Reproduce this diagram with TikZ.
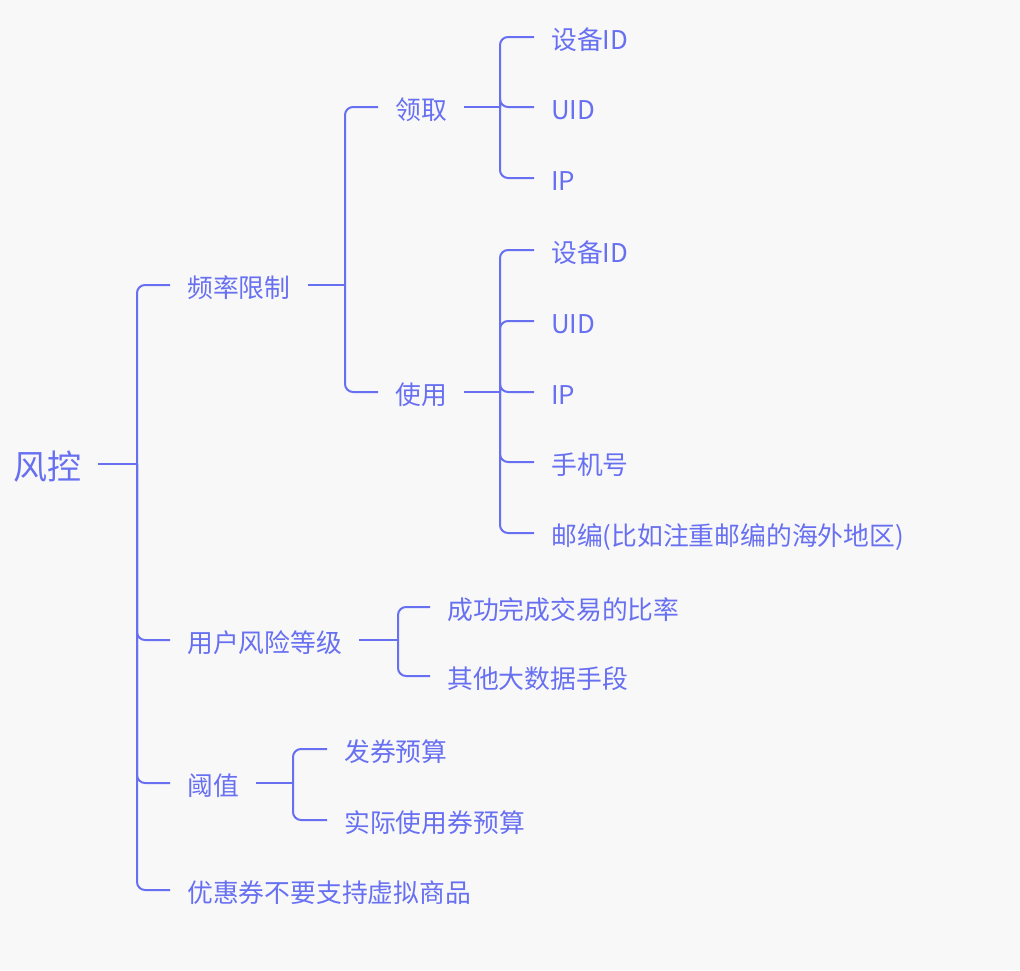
\documentclass[tikz,border=0pt]{standalone}
\usepackage{fontspec}
\setmainfont{Noto Sans CJK SC}
\definecolor{ink}{RGB}{104,112,242}
\definecolor{bg}{RGB}{248,248,248}
\tikzset{
  lbl/.style={anchor=west, inner xsep=17pt, inner ysep=0pt, text height=25pt, text depth=0.4pt, text=ink, font=\fontsize{25.8}{26}\selectfont},
  rootlbl/.style={lbl, text height=31.2pt, font=\fontsize{34}{34}\selectfont},
  link/.style={draw=ink, line width=2pt, rounded corners=8pt}
}
\begin{document}
\begin{tikzpicture}[x=1pt,y=-1pt]
\fill[bg] (0,0) rectangle (1020,970);
\useasboundingbox (0,0) rectangle (1020,970);
% nodes
\node[rootlbl] (r) at (-4,464) {风控};
\node[lbl] (f) at (170,285) {频率限制};
\node[lbl] (u) at (170,640) {用户风险等级};
\node[lbl] (t) at (170,783) {阈值};
\node[lbl] (y) at (170,890) {优惠券不要支持虚拟商品};
\node[lbl] (lq) at (378,107) {领取};
\node[lbl] (sy) at (378,392) {使用};
\node[lbl] (a1) at (534,37) {设备ID};
\node[lbl] (a2) at (534,107) {UID};
\node[lbl] (a3) at (534,178) {IP};
\node[lbl] (b1) at (534,250) {设备ID};
\node[lbl] (b2) at (534,321) {UID};
\node[lbl] (b3) at (534,392) {IP};
\node[lbl] (b4) at (534,462) {手机号};
\node[lbl] (b5) at (534,533) {邮编(比如注重邮编的海外地区)};
\node[lbl] (c1) at (430,607) {成功完成交易的比率};
\node[lbl] (c2) at (430,676) {其他大数据手段};
\node[lbl] (d1) at (327,749) {发券预算};
\node[lbl] (d2) at (327,820) {实际使用券预算};
% junctions
\coordinate (j0) at (137,464);
\coordinate (jf) at (345,285);
\coordinate (jl) at (500,107);
\coordinate (js) at (500,392);
\coordinate (ju) at (398,640);
\coordinate (jt) at (293,783);
% connectors
\draw[link] (r.east) -- (j0);
\foreach \c in {f,u,t,y} \draw[link] (j0) |- (\c.west);
\draw[link] (f.east) -- (jf);
\foreach \c in {lq,sy} \draw[link] (jf) |- (\c.west);
\draw[link] (lq.east) -- (jl);
\foreach \c in {a1,a2,a3} \draw[link] (jl) |- (\c.west);
\draw[link] (sy.east) -- (js);
\foreach \c in {b1,b2,b3,b4,b5} \draw[link] (js) |- (\c.west);
\draw[link] (u.east) -- (ju);
\foreach \c in {c1,c2} \draw[link] (ju) |- (\c.west);
\draw[link] (t.east) -- (jt);
\foreach \c in {d1,d2} \draw[link] (jt) |- (\c.west);
\end{tikzpicture}
\end{document}
